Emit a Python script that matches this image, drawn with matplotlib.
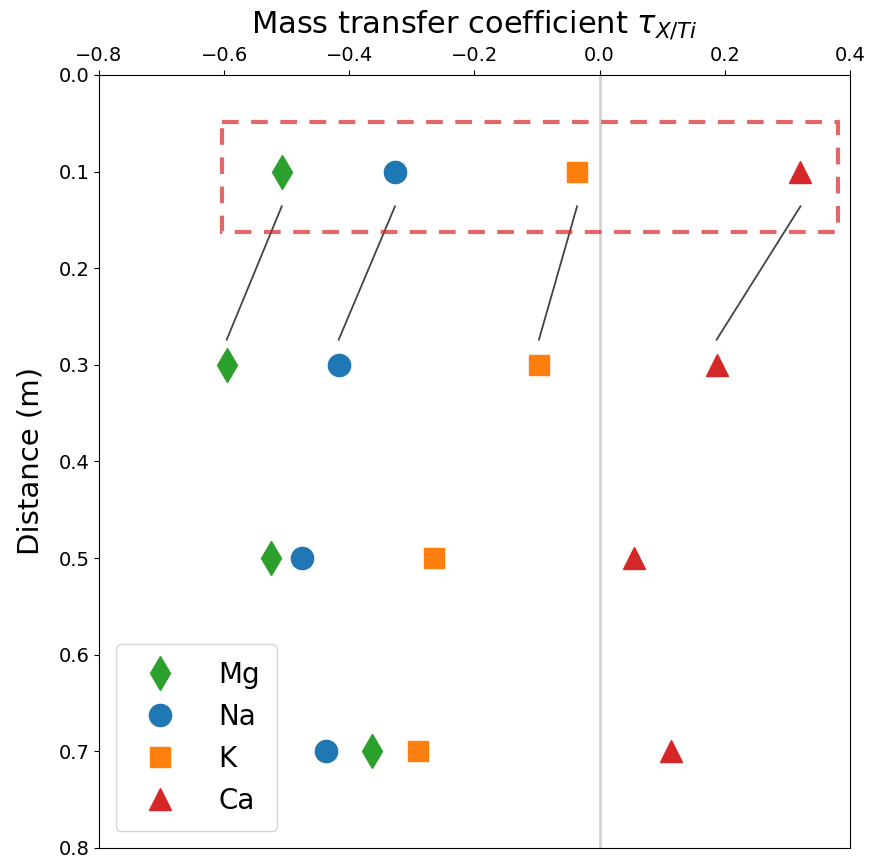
import matplotlib
matplotlib.use("Agg")
import matplotlib.pyplot as plt
from matplotlib.patches import Rectangle

distance = [0.1, 0.3, 0.5, 0.7]
elements = ["Mg", "Na", "K", "Ca"]
tau_mg = [-0.508, -0.596, -0.525, -0.364]
tau_na = [-0.327, -0.417, -0.476, -0.437]
tau_k = [-0.036, -0.097, -0.265, -0.290]
tau_ca = [0.321, 0.187, 0.055, 0.114]

series = [tau_mg, tau_na, tau_k, tau_ca]
markers = ["d", "o", "s", "^"]
colors = ["tab:green", "tab:blue", "tab:orange", "tab:red"]
sizes = [17, 16, 15, 16]

fig = plt.figure(figsize=(8.69, 8.58), dpi=100)
ax = fig.add_axes([0.114, 0.0117, 0.864, 0.901])

ax.axvline(0.0, color="lightgray", lw=2, zorder=0)

for vals, m, c, s, name in zip(series, markers, colors, sizes, elements):
    ax.plot(vals, distance, linestyle="none", marker=m, color=c,
            markersize=s, label=name, zorder=3)
    # connector from the shallow sample down to the next one
    ax.plot([vals[0], vals[1]], [0.136, 0.274], color="#444444", lw=1.3, zorder=2)

ax.add_patch(Rectangle((-0.604, 0.049), 0.985, 0.114, fill=False,
                       edgecolor="tab:red", alpha=0.7, lw=3, linestyle=(0, (4, 3)),
                       zorder=4, clip_on=False))

ax.set_xlim(-0.8, 0.4)
ax.set_ylim(0.8, 0.0)
ax.xaxis.tick_top()
ax.xaxis.set_label_position("top")
ax.set_xlabel(r"Mass transfer coefficient $\tau_{X/Ti}$", fontsize=22, labelpad=10)
ax.set_ylabel("Distance (m)", fontsize=21, labelpad=10)
ax.tick_params(labelsize=14)

ax.legend(loc="lower left", fontsize=20, handletextpad=1.1, borderpad=0.6,
          labelspacing=0.5, borderaxespad=0.6)

fig.savefig("out.png", dpi=100)
